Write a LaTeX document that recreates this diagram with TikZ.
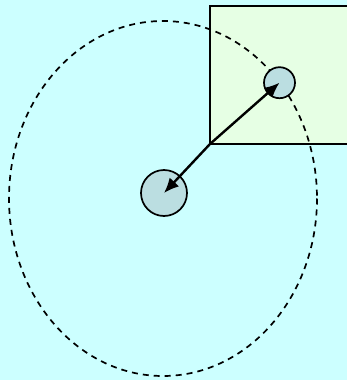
\documentclass[tikz,border=0pt]{standalone}
\usetikzlibrary{arrows.meta}
\definecolor{bgc}{RGB}{204,255,255}
\definecolor{boxc}{RGB}{230,255,228}
\definecolor{ballc}{RGB}{187,222,225}
\tikzset{
  ball/.style={circle,draw=black,line width=1.7pt,fill=ballc,inner sep=0pt},
  orbit/.style={draw=black,line width=1.7pt,dash pattern=on 6pt off 5pt},
  panel/.style={draw=black,line width=2.8pt,fill=boxc},
  link/.style={draw=black,line width=2.4pt,{Latex[length=15pt,width=13pt]}-{Latex[length=15pt,width=13pt]}}
}
\begin{document}
\begin{tikzpicture}[x=1pt,y=-1pt]
\useasboundingbox (0,0) rectangle (347,380);
\fill[bgc] (0,0) rectangle (347,380);
\clip (0,0) rectangle (347,380);
\draw[panel] (210,6) rectangle (360,144);
\coordinate (corner) at (210,144);
\draw[orbit] (163,198.5) ellipse [x radius=154, y radius=177.5];
\node[ball,minimum size=46pt] (big) at (164,193) {};
\node[ball,minimum size=31pt] (small) at (279.5,82.7) {};
\draw[link] (big.center) -- (corner) -- (small.center);
\end{tikzpicture}
\end{document}
